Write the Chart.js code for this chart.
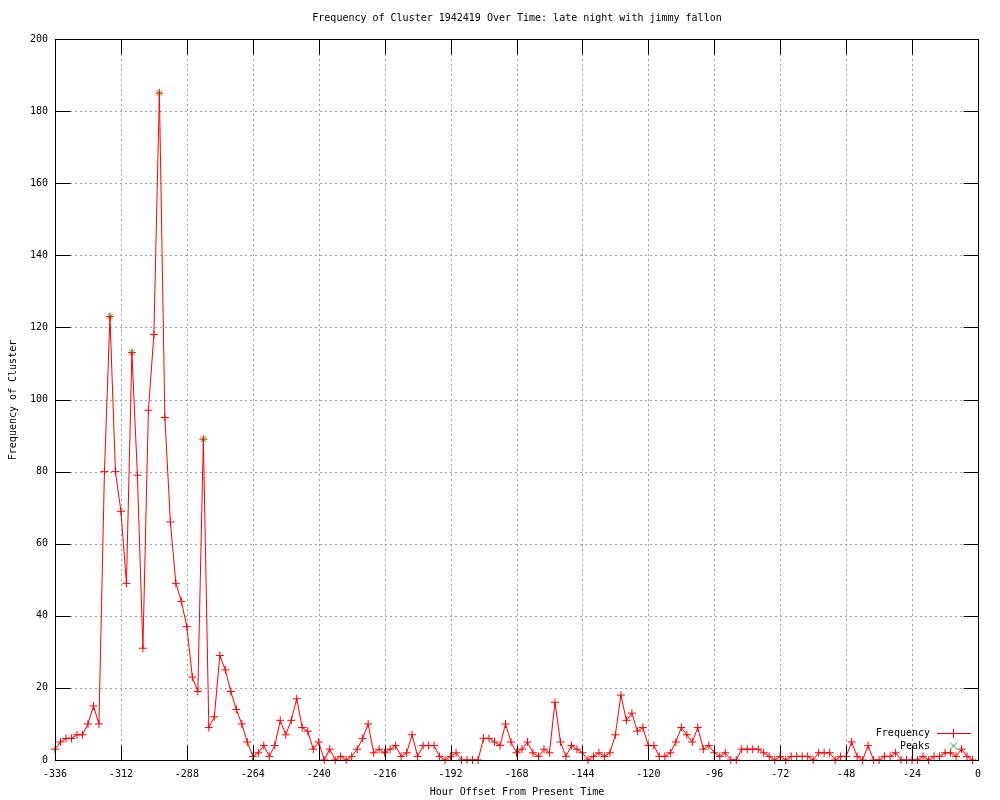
<!DOCTYPE html>
<html><head><meta charset="utf-8">
<script src="https://cdn.jsdelivr.net/npm/chart.js@4.4.0/dist/chart.umd.min.js"></script>
<style>html,body{margin:0;padding:0;background:#fff}#wrap{width:1000px;height:800px}</style>
</head><body><div id="wrap"><canvas id="c" width="1000" height="800"></canvas></div>
<script>
const hours = [-336,-334,-332,-330,-328,-326,-324,-322,-320,-318,-316,-314,-312,-310,-308,-306,-304,-302,-300,-298,
-296,-294,-292,-290,-288,-286,-284,-282,-280,-278,-276,-274,-272,-270,-268,-266,-264,-262,-260,-258,
-256,-254,-252,-250,-248,-246,-244,-242,-240,-238,-236,-234,-232,-230,-228,-226,-224,-222,-220,-218,
-216,-214,-212,-210,-208,-206,-204,-202,-200,-198,-196,-194,-192,-190,-188,-186,-184,-182,-180,-178,
-176,-174,-172,-170,-168,-166,-164,-162,-160,-158,-156,-154,-152,-150,-148,-146,-144,-142,-140,-138,
-136,-134,-132,-130,-128,-126,-124,-122,-120,-118,-116,-114,-112,-110,-108,-106,-104,-102,-100,-98,
-96,-94,-92,-90,-88,-86,-84,-82,-80,-78,-76,-74,-72,-70,-68,-66,-64,-62,-60,-58,
-56,-54,-52,-50,-48,-46,-44,-42,-40,-38,-36,-34,-32,-30,-28,-26,-24,-22,-20,-18,
-16,-14,-12,-10,-8,-6,-4,-2];
const frequency = [3,5,6,6,7,7,10,15,10,80,123,80,69,49,113,79,31,97,118,185,
95,66,49,44,37,23,19,89,9,12,29,25,19,14,10,5,1,2,4,1,
4,11,7,11,17,9,8,3,5,0,3,0,1,0,1,3,6,10,2,3,
2,3,4,1,2,7,1,4,4,4,1,0,1,2,0,0,0,0,6,6,
5,4,10,5,2,3,5,2,1,3,2,16,5,1,4,3,2,0,1,2,
1,2,7,18,11,13,8,9,4,4,1,1,2,5,9,7,5,9,3,4,
2,1,2,0,0,3,3,3,3,2,1,0,1,0,1,1,1,1,0,2,
2,2,0,1,1,5,1,0,4,0,0,1,1,2,0,0,0,0,1,0,
1,1,2,2,1,3,1,0];
const peakHours = [-316,-308,-298,-282];
const peakValues = [123,113,185,89];
const xTickValues = [-336,-312,-288,-264,-240,-216,-192,-168,-144,-120,-96,-72,-48,-24,0];
const yTickValues = [0,20,40,60,80,100,120,140,160,180,200];
const titleText = 'Frequency of Cluster 1942419 Over Time: late night with jimmy fallon';
const xTitle = 'Hour Offset From Present Time';
const yTitle = 'Frequency of Cluster';
const legendLabels = ['Frequency','Peaks'];

const FONT = '10px "DejaVu Sans Mono", "Liberation Mono", monospace';
const RED = '#ff0000';
const GREEN = '#00c000';

const gnuplotPlugin = {
  id: 'gnuplot',
  beforeDatasetsDraw(chart) {
    const {ctx, chartArea: a, scales: {x, y}} = chart;
    ctx.save();
    ctx.strokeStyle = '#a0a0a0';
    ctx.lineWidth = 1;
    ctx.setLineDash([2, 3]);
    xTickValues.forEach(v => {
      const px = Math.round(x.getPixelForValue(v)) + 0.5;
      if (v === xTickValues[0] || v === xTickValues[xTickValues.length-1]) return;
      ctx.beginPath(); ctx.moveTo(px, a.top); ctx.lineTo(px, a.bottom); ctx.stroke();
    });
    yTickValues.forEach(v => {
      const py = Math.round(y.getPixelForValue(v)) + 0.5;
      if (v === yTickValues[0] || v === yTickValues[yTickValues.length-1]) return;
      ctx.beginPath(); ctx.moveTo(a.left, py); ctx.lineTo(a.right, py); ctx.stroke();
    });
    ctx.restore();
  },
  afterDatasetsDraw(chart) {
    const {ctx, chartArea: a, scales: {x, y}} = chart;
    ctx.save();
    ctx.strokeStyle = '#000';
    ctx.lineWidth = 1;
    ctx.setLineDash([]);
    const L = Math.round(a.left) + 0.5, R = Math.round(a.right) + 0.5;
    const T = Math.round(a.top) + 0.5, B = Math.round(a.bottom) + 0.5;
    ctx.strokeRect(L, T, R - L, B - T);
    const tl = 15;
    ctx.beginPath();
    xTickValues.forEach(v => {
      const px = Math.round(x.getPixelForValue(v)) + 0.5;
      ctx.moveTo(px, B); ctx.lineTo(px, B - tl);
      ctx.moveTo(px, T); ctx.lineTo(px, T + tl);
    });
    yTickValues.forEach(v => {
      const py = Math.round(y.getPixelForValue(v)) + 0.5;
      ctx.moveTo(L, py); ctx.lineTo(L + tl, py);
      ctx.moveTo(R, py); ctx.lineTo(R - tl, py);
    });
    ctx.stroke();
    ctx.restore();
  },
  afterDraw(chart) {
    const {ctx} = chart;
    ctx.save();
    ctx.fillStyle = '#000';
    ctx.font = FONT;
    ctx.textBaseline = 'middle';
    ctx.textAlign = 'center';
    ctx.fillText(titleText, 517, 18);
    ctx.fillText(xTitle, 517, 792);
    ctx.save();
    ctx.translate(13, 400);
    ctx.rotate(-Math.PI / 2);
    ctx.fillText(yTitle, 0, 0);
    ctx.restore();
    // legend
    ctx.textAlign = 'right';
    ctx.fillText(legendLabels[0], 930, 733);
    ctx.fillText(legendLabels[1], 930, 746);
    ctx.fillStyle = RED;
    ctx.fillRect(937, 733, 34, 1);
    ctx.fillRect(953, 729, 1, 9);
    ctx.strokeStyle = GREEN;
    ctx.lineWidth = 1;
    ctx.beginPath();
    ctx.moveTo(950, 742.5); ctx.lineTo(957, 749.5);
    ctx.moveTo(957, 742.5); ctx.lineTo(950, 749.5);
    ctx.stroke();
    ctx.restore();
  }
};

new Chart(document.getElementById('c'), {
  type: 'line',
  data: {
    datasets: [
      {
        label: legendLabels[1],
        data: peakHours.map((h, i) => ({x: h, y: peakValues[i]})),
        showLine: false,
        pointStyle: 'crossRot',
        pointRadius: 4,
        pointBorderColor: GREEN,
        pointBorderWidth: 1,
        borderColor: GREEN,
        clip: false,
        order: 2
      },
      {
        label: legendLabels[0],
        data: hours.map((h, i) => ({x: h, y: frequency[i]})),
        borderColor: RED,
        borderWidth: 1,
        tension: 0,
        pointStyle: 'cross',
        pointRadius: 4,
        pointBorderColor: RED,
        pointBorderWidth: 1,
        fill: false,
        clip: false,
        order: 1
      }
    ]
  },
  options: {
    responsive: false,
    animation: false,
    devicePixelRatio: 1,
    layout: {padding: {top: 39, right: 22, left: 0, bottom: 0}},
    plugins: {legend: {display: false}, title: {display: false}, tooltip: {enabled: false}},
    scales: {
      x: {
        type: 'linear', min: -336, max: 0,
        afterBuildTicks: s => { s.ticks = xTickValues.map(v => ({value: v})); },
        afterFit: s => { s.height = 40; },
        grid: {display: false, drawTicks: false}, border: {display: false},
        ticks: {font: {family: '"DejaVu Sans Mono"', size: 10}, color: '#000', padding: 8, maxRotation: 0, autoSkip: false}
      },
      y: {
        type: 'linear', min: 0, max: 200,
        afterBuildTicks: s => { s.ticks = yTickValues.map(v => ({value: v})); },
        afterFit: s => { s.width = 55; },
        grid: {display: false, drawTicks: false}, border: {display: false},
        ticks: {font: {family: '"DejaVu Sans Mono"', size: 10}, color: '#000', padding: 7, autoSkip: false}
      }
    }
  },
  plugins: [gnuplotPlugin]
});
</script>
</body></html>
